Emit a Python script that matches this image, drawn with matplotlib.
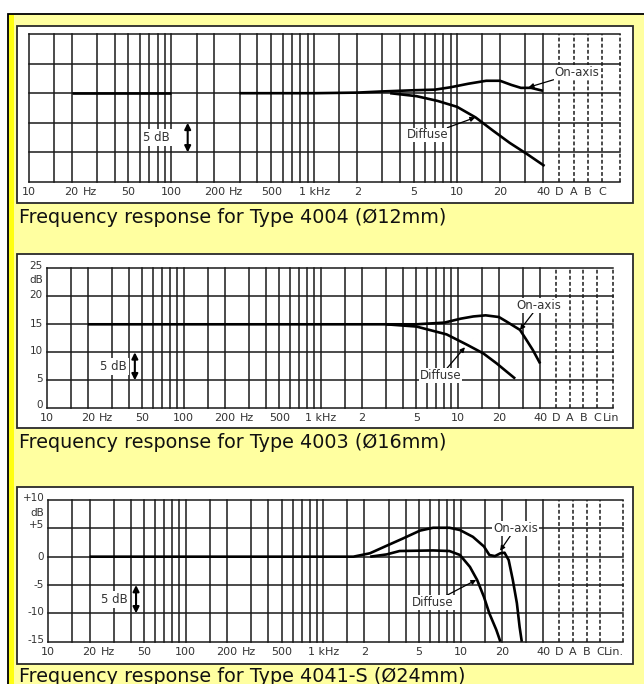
import matplotlib
matplotlib.use('Agg')
import matplotlib.pyplot as plt
from matplotlib.patches import Rectangle

W, H = 644, 684
PALE = '#FFFFA0'
GRID = '#1a1a1a'
TXT = '#333333'

# ---- data ----
# Type 4004 (12 mm), dB relative, range -15..+10
FLAT_4004_F = [20, 100]
FLAT_4004_DB = [0, 0]
ONAXIS_4004_F = [300, 1000, 2000, 3000, 5000, 7000, 9000, 12000, 16000, 20000, 24000, 28000, 33000, 40000]
ONAXIS_4004_DB = [0, 0, 0.1, 0.3, 0.5, 0.6, 1.0, 1.6, 2.1, 2.1, 1.4, 0.9, 0.9, 0.4]
DIFFUSE_4004_F = [3400, 5200, 7300, 10000, 13500, 17800, 23400, 31000, 41000]
DIFFUSE_4004_DB = [0, -0.5, -1.3, -2.3, -4.1, -6.3, -8.4, -10.3, -12.3]

# Type 4003 (16 mm), dB, range 0..25
ONAXIS_4003_F = [20, 5000, 8000, 10500, 13000, 16000, 20000, 22700, 28500, 31800, 35400, 40000]
ONAXIS_4003_DB = [15, 15, 15.3, 16.0, 16.4, 16.6, 16.3, 15.5, 14.0, 12.2, 10.4, 8.0]
DIFFUSE_4003_F = [3000, 5000, 8300, 11600, 15400, 19300, 22900, 26300]
DIFFUSE_4003_DB = [15, 14.6, 13.2, 11.4, 9.8, 8.0, 6.5, 5.3]

# Type 4041-S (24 mm), dB, range -15..+10
ONAXIS_4041_F = [20, 1660, 2190, 2880, 3800, 5070, 6310, 8320, 9900, 12300, 14800, 16200,
                 17800, 19500, 20900, 22400, 24000, 25700, 26900, 27900]
ONAXIS_4041_DB = [0, 0, 0.6, 1.9, 3.2, 4.6, 5.1, 5.1, 4.7, 3.5, 1.8, 0.3,
                  0.1, 0.6, 0.7, -0.6, -4.1, -8.2, -12.4, -15]
DIFFUSE_4041_F = [2200, 2900, 3600, 6300, 8300, 9900, 11700, 13200, 14800, 16200, 18200, 19500]
DIFFUSE_4041_DB = [0, 0.4, 1.0, 1.1, 1.0, 0.3, -1.8, -4.1, -7.1, -10.0, -12.9, -15]

TITLES = ['Frequency response for Type 4004 (\u00d812mm)',
          'Frequency response for Type 4003 (\u00d816mm)',
          'Frequency response for Type 4041-S (\u00d824mm)']

X_LABELS_MAIN = ['10', '20 Hz', '50', '100', '200 Hz', '500', '1 kHz', '2', '5', '10', '20', '40']
X_LABEL_FREQS = [10, 20, 50, 100, 200, 500, 1000, 2000, 5000, 10000, 20000, 40000]
EXTRA_4004 = ['D', 'A', 'B', 'C']
EXTRA_4003 = ['D', 'A', 'B', 'C', 'Lin']
EXTRA_4041 = ['D', 'A', 'B', 'C', 'Lin.']

Y_LABELS_4003 = ['25', 'dB', '20', '15', '10', '5', '0']
Y_VALUES_4003 = [25.4, 22.9, 20.3, 15.1, 10.2, 5.2, 0.6]
Y_LABELS_4041 = ['+10', 'dB', '+5', '0', '-5', '-10', '-15']
Y_VALUES_4041 = [10.3, 7.65, 5.6, 0, -5, -9.7, -14.7]

# extra weighting columns after 40 kHz, in decades
EXTRA_OFFS = [0.115, 0.215, 0.315, 0.415, 0.515]


def px_axes(l, t, r, b):
    return fig.add_axes([l / W, 1 - b / H, (r - l) / W, (b - t) / H])


fig = plt.figure(figsize=(W / 100, H / 100), dpi=100)
fig.patch.set_facecolor('white')

bg = fig.add_axes([0, 0, 1, 1])
bg.set_xlim(0, W)
bg.set_ylim(H, 0)
bg.set_axis_off()
bg.add_patch(Rectangle((8, 13.5), 700, 700, fc=PALE, ec='black', lw=1.3))
bg.add_patch(Rectangle((9.5, 14.5), 5, 700, fc='#FFFF10', ec='none'))
for (l, t, r, b) in [(17.5, 25.5, 633.5, 202.5), (17, 254, 633, 428), (17, 487, 633, 664)]:
    bg.add_patch(Rectangle((l, t), r - l, b - t, fc='white', ec='#2a2a2a', lw=1.3))

for txt, yb in zip(TITLES, [222.7, 447.7, 682]):
    fig.text(19 / W, 1 - yb / H, txt, fontsize=13.8, color='#111111', va='baseline', ha='left')


def draw_panel(rect, xmax_dec, ylim, extra, curves, labels, arrow5, ylabels=None):
    ax = px_axes(*rect)
    ax.set_xscale('log')
    ax.set_xlim(10, 10 ** xmax_dec)
    ax.set_ylim(*ylim)
    ax.set_axis_off()

    grid_f = [m * d for d in (10, 100, 1000) for m in (1, 1.5, 2, 3, 4, 5, 6, 7, 8, 9)]
    grid_f += [10000, 15000, 20000, 30000, 40000]
    for f in grid_f:
        ax.axvline(f, color=GRID, lw=1.1, zorder=1, clip_on=False)
    extra_f = [40000 * 10 ** o for o in EXTRA_OFFS]
    for f in extra_f[:4] + [10 ** xmax_dec]:
        ax.axvline(f, color=GRID, lw=1.1, ls=(0, (2.5, 1.5)), zorder=1, clip_on=False)
    for y in range(ylim[0], ylim[1] + 1, 5):
        ax.axhline(y, color=GRID, lw=1.1, zorder=1, clip_on=False)

    for fx, dbs in curves:
        ax.plot(fx, dbs, color='black', lw=1.9, zorder=3, solid_capstyle='butt')

    tr = ax.get_xaxis_transform()
    for f, lab in zip(X_LABEL_FREQS + extra_f[:len(extra)], X_LABELS_MAIN + extra):
        if lab.endswith(' Hz') and 'k' not in lab:
            num = lab.split()[0]
            ax.annotate(num, xy=(f, 0), xycoords=tr, xytext=(0, -10), textcoords='offset pixels',
                        ha='center', va='center', fontsize=8, color=TXT)
            ax.annotate('Hz', xy=(f, 0), xycoords=tr, xytext=(len(num) * 3.6 + 4, -10),
                        textcoords='offset pixels', ha='left', va='center', fontsize=8, color=TXT)
        else:
            ax.annotate(lab, xy=(f, 0), xycoords=tr, xytext=(0, -10), textcoords='offset pixels',
                        ha='center', va='center', fontsize=8, color=TXT)

    if ylabels:
        for lab, y in zip(*ylabels):
            ax.annotate(lab, xy=(0, y), xycoords=ax.get_yaxis_transform(), xytext=(-4, 0),
                        textcoords='offset pixels', ha='right', va='center', fontsize=7.5, color=TXT)

    for text, tip, pos in labels:
        ax.annotate(text, xy=tip, xytext=pos, ha='center', va='center', fontsize=8.5, color=TXT,
                    bbox=dict(fc='white', ec='none', pad=0.6), zorder=4,
                    arrowprops=dict(arrowstyle='-|>', color='black', lw=0.9, mutation_scale=7,
                                    shrinkA=0, shrinkB=0))

    fa, y1, y2, ftxt = arrow5
    ax.annotate('', xy=(fa, y1), xytext=(fa, y2),
                arrowprops=dict(arrowstyle='<|-|>', color='black', lw=1.5, mutation_scale=9,
                                shrinkA=0, shrinkB=0), zorder=4)
    ax.text(ftxt, (y1 + y2) / 2, '5 dB', ha='right', va='center', fontsize=8.5, color=TXT, zorder=4,
            bbox=dict(fc='white', ec='none', pad=1.5))
    return ax


draw_panel((28.6, 34, 620, 182), 5.141, (-15, 10), EXTRA_4004,
           [(FLAT_4004_F, FLAT_4004_DB), (ONAXIS_4004_F, ONAXIS_4004_DB), (DIFFUSE_4004_F, DIFFUSE_4004_DB)],
           [('On-axis', (31700, 1.0), (69000, 3.46)), ('Diffuse', (13400, -4.1), (6200, -7.06))],
           (130, -5, -10, 97))

draw_panel((46.7, 268.3, 613, 408.3), 5.134, (0, 25), EXTRA_4003,
           [(ONAXIS_4003_F, ONAXIS_4003_DB), (DIFFUSE_4003_F, DIFFUSE_4003_DB)],
           [('On-axis', (28500, 14.0), (39200, 18.4)), ('Diffuse', (11300, 10.9), (7500, 5.8))],
           (44, 10, 5, 38.5), (Y_LABELS_4003, Y_VALUES_4003))

draw_panel((48.3, 500, 622.7, 641.7), 5.18, (-15, 10), EXTRA_4041,
           [(ONAXIS_4041_F, ONAXIS_4041_DB), (DIFFUSE_4041_F, DIFFUSE_4041_DB)],
           [('On-axis', (19400, 1.05), (25100, 5.0)), ('Diffuse', (13000, -4.1), (6300, -8.1))],
           (43.5, -5, -10, 38), (Y_LABELS_4041, Y_VALUES_4041))

fig.savefig('out.png', dpi=100, facecolor=fig.get_facecolor())
